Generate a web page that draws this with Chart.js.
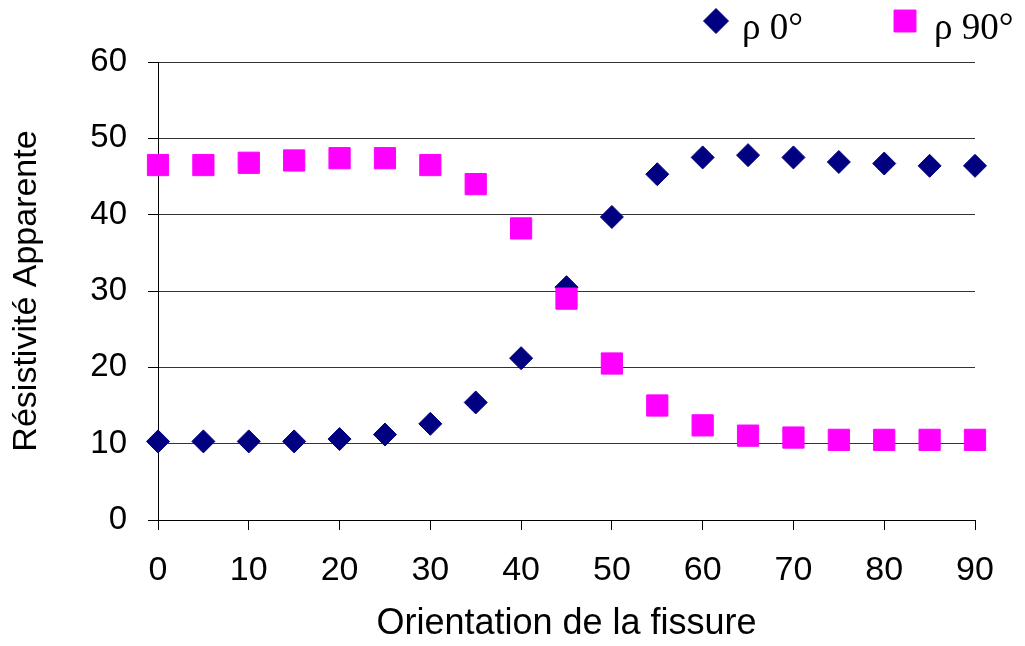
<!DOCTYPE html>
<html>
<head>
<meta charset="utf-8">
<script src="https://cdn.jsdelivr.net/npm/chart.js@4.4.1/dist/chart.umd.min.js"></script>
<style>
  html, body { margin: 0; padding: 0; background: #fff; }
</style>
</head>
<body>
<canvas id="grafica" width="1025" height="646"></canvas>
<script>
// orientation de la fissure (degrés)
const angles = [0, 5, 10, 15, 20, 25, 30, 35, 40, 45, 50, 55, 60, 65, 70, 75, 80, 85, 90];
// résistivité apparente, électrodes à 0° et 90°
const rho0 = [10.3, 10.3, 10.3, 10.3, 10.6, 11.2, 12.6, 15.4, 21.2, 30.5, 39.7, 45.3, 47.5, 47.8, 47.5, 46.9, 46.7, 46.4, 46.4];
const rho90 = [46.5, 46.5, 46.8, 47.1, 47.4, 47.4, 46.5, 44.0, 38.2, 29.0, 20.5, 15.0, 12.4, 11.05, 10.8, 10.5, 10.5, 10.5, 10.5];
const noms = ["ρ 0°", "ρ 90°"];

const points = (valeurs) => angles.map((a, i) => ({ x: a, y: valeurs[i] }));

// légende dessinée à la main pour garder l'écart de l'original
const legende = {
    id: "legende",
    afterDraw(chart) {
        const ctx = chart.ctx;
        const pos = [{ x: 716, r: 12.5 }, { x: 905, r: 15.5 }];
        ctx.save();
        chart.data.datasets.forEach((ds, i) => {
            ctx.fillStyle = ds.backgroundColor;
            ctx.strokeStyle = ds.borderColor;
            ctx.lineWidth = 1;
            Chart.helpers.drawPoint(ctx, { pointStyle: ds.pointStyle, radius: pos[i].r, rotation: 0, borderWidth: 1 }, pos[i].x, 21);
            ctx.fillStyle = "#000";
            ctx.font = '37px "Liberation Serif"';
            ctx.textBaseline = "alphabetic";
            ctx.textAlign = "left";
            ctx.fillText(ds.label, pos[i].x + (i === 0 ? 26 : 29), 39);
        });
        ctx.restore();
    }
};

const ctx = document.getElementById("grafica").getContext("2d");
new Chart(ctx, {
    type: "scatter",
    data: {
        datasets: [{
            label: noms[0],
            data: points(rho0),
            pointStyle: "rectRot",
            pointRadius: 11.5,
            pointHoverRadius: 11.5,
            backgroundColor: "#000080",
            borderColor: "#000080",
            borderWidth: 1,
            clip: false,
            order: 1
        }, {
            label: noms[1],
            data: points(rho90),
            pointStyle: "rect",
            pointRadius: 15,
            pointHoverRadius: 15,
            backgroundColor: "#FF00FF",
            borderColor: "#FF00FF",
            borderWidth: 1,
            clip: false,
            order: 0
        }]
    },
    options: {
        responsive: false,
        animation: false,
        devicePixelRatio: 1,
        layout: { padding: { top: 62, left: 0, right: 0, bottom: 0 } },
        plugins: {
            legend: { display: false },
            tooltip: { enabled: false }
        },
        scales: {
            x: {
                type: "linear",
                min: 0,
                max: 90,
                afterFit: (s) => { s.height = 126; },
                ticks: {
                    stepSize: 10,
                    padding: 20,
                    color: "#000",
                    font: { family: '"Liberation Sans", Arial', size: 34 }
                },
                grid: { drawOnChartArea: false, drawTicks: true, tickLength: 10, tickColor: "#000" },
                border: { display: true, color: "#000", width: 1 },
                title: {
                    display: true,
                    text: "Orientation de la fissure",
                    color: "#000",
                    padding: { top: 0, bottom: 0 },
                    font: { family: '"Liberation Sans", Arial', size: 36 }
                }
            },
            y: {
                min: 0,
                max: 60,
                afterFit: (s) => { s.width = 158; },
                ticks: {
                    stepSize: 10,
                    padding: 21,
                    color: "#000",
                    font: { family: '"Liberation Sans", Arial', size: 33 }
                },
                grid: { color: "#333", lineWidth: 1, tickLength: 10, tickColor: "#000" },
                border: { display: true, color: "#000", width: 1 },
                title: {
                    display: true,
                    text: "Résistivité Apparente",
                    color: "#000",
                    padding: { top: 6, bottom: 0 },
                    font: { family: '"Liberation Sans", Arial', size: 34 }
                }
            },
            marge: {
                position: "right",
                afterFit: (s) => { s.width = 50; },
                ticks: { display: false },
                grid: { display: false },
                border: { display: false }
            }
        }
    },
    plugins: [legende]
});
</script>
</body>
</html>
